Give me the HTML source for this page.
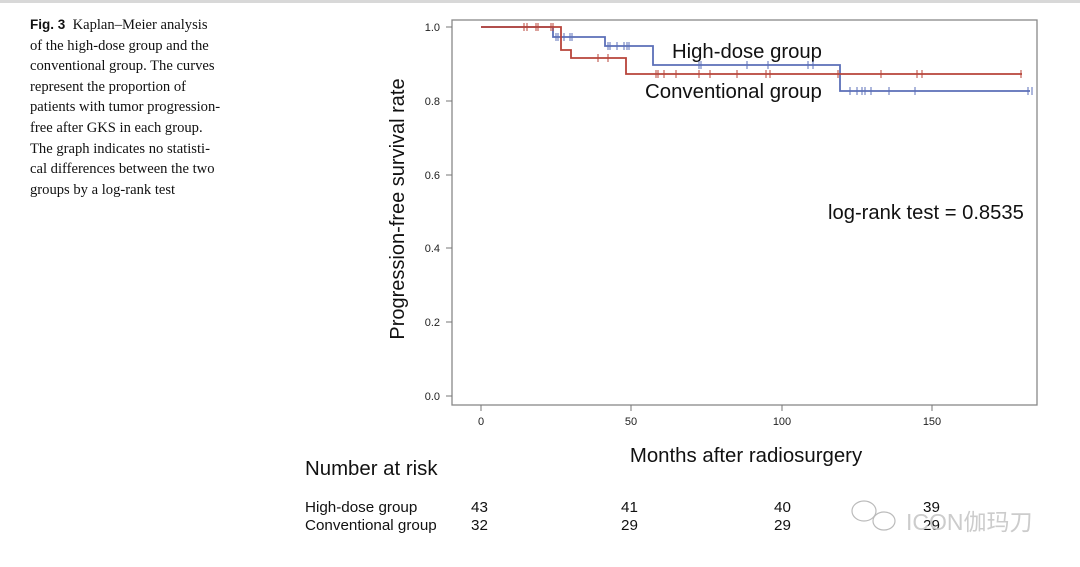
<!DOCTYPE html>
<html><head><meta charset="utf-8"><style>
body{margin:0;width:1080px;height:567px;background:#fff;overflow:hidden;position:relative}
.cap{position:absolute;left:30px;top:15px;font:14.6px/20.6px "Liberation Serif",serif;color:#111;width:240px}
.cap b{font-family:"Liberation Sans",sans-serif;font-size:13.5px}
</style></head><body>
<div style="position:absolute;left:0;top:0;width:1080px;height:3px;background:#d8d8d8"></div>
<div class="cap"><b>Fig. 3</b>&nbsp; Kaplan–Meier analysis<br>of the high-dose group and the<br>conventional group. The curves<br>represent the proportion of<br>patients with tumor progression-<br>free after GKS in each group.<br>The graph indicates no statisti-<br>cal differences between the two<br>groups by a log-rank test</div>
<svg width="1080" height="567" style="position:absolute;left:0;top:0" font-family="Liberation Sans,sans-serif">
<rect x="452" y="20" width="585" height="385" fill="none" stroke="#888" stroke-width="1.3"/>
<g stroke="#777" stroke-width="1">
<line x1="446" y1="27" x2="452" y2="27"/><line x1="446" y1="101" x2="452" y2="101"/><line x1="446" y1="175" x2="452" y2="175"/><line x1="446" y1="248" x2="452" y2="248"/><line x1="446" y1="322" x2="452" y2="322"/><line x1="446" y1="396" x2="452" y2="396"/>
<line x1="481" y1="405" x2="481" y2="411"/><line x1="631" y1="405" x2="631" y2="411"/><line x1="782" y1="405" x2="782" y2="411"/><line x1="932" y1="405" x2="932" y2="411"/>
</g>
<g font-size="11" fill="#222" text-anchor="end">
<text x="440" y="31">1.0</text><text x="440" y="105">0.8</text><text x="440" y="179">0.6</text><text x="440" y="252">0.4</text><text x="440" y="326">0.2</text><text x="440" y="400">0.0</text>
</g>
<g font-size="11" fill="#222" text-anchor="middle">
<text x="481" y="425">0</text><text x="631" y="425">50</text><text x="782" y="425">100</text><text x="932" y="425">150</text>
</g>
<text transform="translate(404,209) rotate(-90)" font-size="20" text-anchor="middle" fill="#111">Progression-free survival rate</text>
<text x="746" y="462" font-size="20.4" text-anchor="middle" fill="#111">Months after radiosurgery</text>
<text x="672" y="58" font-size="20.3" fill="#111">High-dose group</text>
<text x="645" y="98" font-size="20.4" fill="#111">Conventional group</text>
<text x="828" y="219" font-size="20.2" fill="#111">log-rank test = 0.8535</text>
<path d="M481 27H553V37H605V46H653V65H840V91H1030" fill="none" stroke="#5b6fb8" stroke-width="1.8"/>
<path d="M481 27H561V50H571V58H626V74H1022" fill="none" stroke="#b8443a" stroke-width="1.8"/>
<g stroke="#5b6fb8" stroke-width="1">
<path d="M556 33v8M558 33v8M564 33v8M570 33v8M572 33v8M608 42v8M610 42v8M617 42v8M624 42v8M627 42v8M629 42v8M699 61v8M701 61v8M747 61v8M768 61v8M808 61v8M813 61v8M850 87v8M857 87v8M862 87v8M865 87v8M871 87v8M889 87v8M915 87v8M1028 87v8M1032 87v8"/>
</g>
<g stroke="#b8443a" stroke-width="1">
<path d="M524 23v8M527 23v8M536 23v8M538 23v8M551 23v8M553 23v8M598 54v8M608 54v8M656 70v8M658 70v8M664 70v8M676 70v8M699 70v8M710 70v8M737 70v8M766 70v8M770 70v8M838 70v8M881 70v8M917 70v8M922 70v8M1021 70v8"/>
</g>
<text x="305" y="475" font-size="20.4" fill="#111">Number at risk</text>
<g font-size="15.2" fill="#111">
<text x="305" y="512">High-dose group</text><text x="305" y="530">Conventional group</text>
<text x="471" y="512">43</text><text x="471" y="530">32</text>
<text x="621" y="512">41</text><text x="621" y="530">29</text>
<text x="774" y="512">40</text><text x="774" y="530">29</text>
<text x="923" y="512">39</text><text x="923" y="530">29</text>
</g>
<g fill="none" stroke="#bbb" stroke-width="1.2">
<ellipse cx="864" cy="511" rx="12" ry="10"/><ellipse cx="884" cy="521" rx="11" ry="9" fill="#fff"/>
</g>
<text x="906" y="530" font-size="23" fill="#ccc" font-family="Liberation Sans,Noto Sans CJK SC,sans-serif">ICON伽玛刀</text>
</svg>
</body></html>
